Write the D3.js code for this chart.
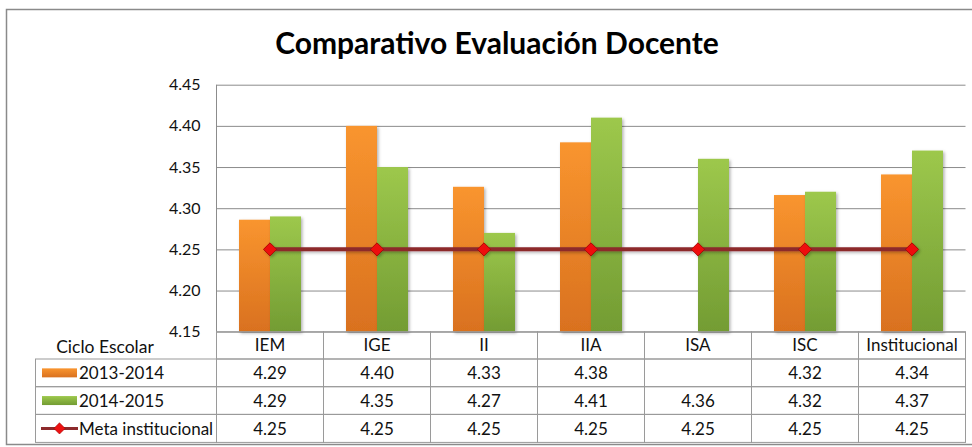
<!DOCTYPE html>
<html>
<head>
<meta charset="utf-8">
<script src="https://cdn.jsdelivr.net/npm/d3@7"></script>
<style>
  body { margin: 0; background: #fff; }
  svg { display: block; font-family: Lato, 'Open Sans', sans-serif; }
  .grid line { stroke: #8c8c8c; stroke-width: 1; }
  .grid .domain { display: none; }
  .cell { fill: none; stroke: #9a9a9a; stroke-width: 1; }
  .tbl text { font-size: 17px; fill: #111; }
</style>
</head>
<body>
<div class="container"></div>
<script>
/* globals d3 */

// data
var categories = ['IEM', 'IGE', 'II', 'IIA', 'ISA', 'ISC', 'Institucional']
var seriesNames = ['2013-2014', '2014-2015', 'Meta institucional']
var values2013 = [4.286, 4.40, 4.326, 4.38, null, 4.316, 4.341]
var values2014 = [4.29, 4.35, 4.27, 4.41, 4.36, 4.32, 4.37]
var meta = [4.25, 4.25, 4.25, 4.25, 4.25, 4.25, 4.25]
var yTicks = [4.15, 4.20, 4.25, 4.30, 4.35, 4.40, 4.45]

;(function () {
  var W = 972
  var H = 447
  var plot = { left: 216.5, right: 965.5, top: 84.7, bottom: 331.7 }
  var rowH = [27.3, 27.7, 27.7, 28]

  var svg = d3.select('.container')
              .append('svg')
              .attr('width', W)
              .attr('height', H)

  var defs = svg.append('defs')

  function gradient (id, top, bottom) {
    var g = defs.append('linearGradient')
                .attr('id', id)
                .attr('x1', 0).attr('y1', 0)
                .attr('x2', 0).attr('y2', 1)
    g.append('stop').attr('offset', '0%').attr('stop-color', top)
    g.append('stop').attr('offset', '100%').attr('stop-color', bottom)
  }
  gradient('gOrange', '#f9952f', '#d9711f')
  gradient('gGreen', '#9dc84c', '#739c33')

  var shadow = defs.append('filter')
                   .attr('id', 'shadow')
                   .attr('x', '-20%').attr('y', '-20%')
                   .attr('width', '150%').attr('height', '150%')
  shadow.append('feDropShadow')
        .attr('dx', 1.5).attr('dy', 1.5)
        .attr('stdDeviation', 1.5)
        .attr('flood-color', '#000')
        .attr('flood-opacity', 0.3)

  // outer frame
  svg.append('rect')
     .attr('x', 6.5).attr('y', 9.5)
     .attr('width', W + 20).attr('height', 435)
     .attr('fill', 'none')
     .attr('stroke', '#8a8a8a')
     .attr('stroke-width', 1.5)

  // title
  svg.append('text')
     .attr('x', 497)
     .attr('y', 54)
     .attr('text-anchor', 'middle')
     .style('font-size', '30px')
     .style('font-weight', 'bold')
     .style('fill', '#000')
     .text('Comparativo Evaluación Docente')

  // scales
  var x = d3.scaleBand()
            .domain(categories)
            .range([plot.left, plot.right])

  var xs = d3.scaleBand()
             .domain([0, 1])
             .range([0, x.bandwidth()])
             .paddingOuter(0.726)

  var y = d3.scaleLinear()
            .domain([4.15, 4.45])
            .range([plot.bottom, plot.top])

  // grid + y labels
  var yAxis = svg.append('g')
                 .attr('class', 'grid')
                 .attr('transform', 'translate(' + plot.left + ',0)')
                 .call(d3.axisLeft(y)
                         .tickValues(yTicks)
                         .tickSize(-(plot.right - plot.left))
                         .tickPadding(16)
                         .tickFormat(d3.format('.2f')))
  yAxis.selectAll('.tick text')
       .style('font-size', '16px')
       .style('fill', '#111')
       .style('font-family', 'Lato, sans-serif')
  yAxis.selectAll('.tick line')
       .attr('stroke', '#8c8c8c')

  svg.append('line')
     .attr('x1', plot.left).attr('x2', plot.left)
     .attr('y1', plot.top).attr('y2', plot.bottom)
     .attr('stroke', '#8c8c8c')

  // bars
  var barSeries = [
    { key: 0, values: values2013, fill: 'url(#gOrange)' },
    { key: 1, values: values2014, fill: 'url(#gGreen)' }
  ]

  barSeries.forEach(function (s) {
    svg.append('g')
       .selectAll('rect')
       .data(categories.map(function (c, i) { return { cat: c, v: s.values[i] } })
                       .filter(function (d) { return d.v !== null }))
       .enter()
       .append('rect')
       .attr('x', function (d) { return x(d.cat) + xs(s.key) })
       .attr('width', xs.bandwidth())
       .attr('y', function (d) { return y(d.v) })
       .attr('height', function (d) { return y.range()[0] - y(d.v) })
       .attr('fill', s.fill)
       .attr('filter', 'url(#shadow)')
  })

  // meta line
  var line = d3.line()
               .x(function (d, i) { return x(categories[i]) + x.bandwidth() / 2 })
               .y(function (d) { return y(d) })

  var metaG = svg.append('g').attr('filter', 'url(#shadow)')
  metaG.append('path')
       .attr('d', line(meta))
       .attr('fill', 'none')
       .attr('stroke', '#8d2a2c')
       .attr('stroke-width', 4)

  var diamond = d3.symbol().type(d3.symbolDiamond2).size(110)
  metaG.selectAll('path.mk')
       .data(meta)
       .enter()
       .append('path')
       .attr('class', 'mk')
       .attr('d', diamond)
       .attr('transform', function (d, i) {
         return 'translate(' + (x(categories[i]) + x.bandwidth() / 2) + ',' + y(d) + ')'
       })
       .attr('fill', '#ee1111')
       .attr('stroke', '#a00000')
       .attr('stroke-width', 0.8)

  // data table
  var tbl = svg.append('g').attr('class', 'tbl')
  var rowY = [plot.bottom]
  rowH.forEach(function (h, i) { rowY.push(rowY[i] + h) })
  var legendLeft = 35.5

  // header cells
  categories.forEach(function (c) {
    tbl.append('rect')
       .attr('class', 'cell')
       .attr('x', x(c)).attr('y', rowY[0])
       .attr('width', x.bandwidth()).attr('height', rowH[0])
    tbl.append('text')
       .attr('x', x(c) + x.bandwidth() / 2)
       .attr('y', rowY[0] + rowH[0] / 2)
       .attr('dy', '0.36em')
       .attr('text-anchor', 'middle')
       .text(c)
  })

  tbl.append('text')
     .attr('x', 105)
     .attr('y', rowY[0] + rowH[0] / 2 + 1)
     .attr('dy', '0.36em')
     .attr('text-anchor', 'middle')
     .style('font-size', '17.5px')
     .text('Ciclo Escolar')

  var rows = [values2013, values2014, meta]
  rows.forEach(function (vals, r) {
    var top = rowY[r + 1]
    var h = rowH[r + 1]
    tbl.append('rect')
       .attr('class', 'cell')
       .attr('x', legendLeft).attr('y', top)
       .attr('width', plot.left - legendLeft).attr('height', h)

    // legend key
    if (r < 2) {
      tbl.append('rect')
         .attr('x', 42).attr('y', top + h / 2 - 4.5)
         .attr('width', 35).attr('height', 9)
         .attr('fill', r === 0 ? 'url(#gOrange)' : 'url(#gGreen)')
    } else {
      tbl.append('line')
         .attr('x1', 41).attr('x2', 78)
         .attr('y1', top + h / 2).attr('y2', top + h / 2)
         .attr('stroke', '#8d2a2c').attr('stroke-width', 3)
      tbl.append('path')
         .attr('d', d3.symbol().type(d3.symbolDiamond2).size(80))
         .attr('transform', 'translate(59.5,' + (top + h / 2) + ')')
         .attr('fill', '#ee1111')
         .attr('stroke', '#a00000')
         .attr('stroke-width', 0.6)
    }
    tbl.append('text')
       .attr('x', 79)
       .attr('y', top + h / 2)
       .attr('dy', '0.36em')
       .text(seriesNames[r])

    categories.forEach(function (c, i) {
      tbl.append('rect')
         .attr('class', 'cell')
         .attr('x', x(c)).attr('y', top)
         .attr('width', x.bandwidth()).attr('height', h)
      if (vals[i] !== null) {
        tbl.append('text')
           .attr('x', x(c) + x.bandwidth() / 2)
           .attr('y', top + h / 2)
           .attr('dy', '0.36em')
           .attr('text-anchor', 'middle')
           .text(d3.format('.2f')(vals[i]))
      }
    })
  })
}())
</script>
</body>
</html>
